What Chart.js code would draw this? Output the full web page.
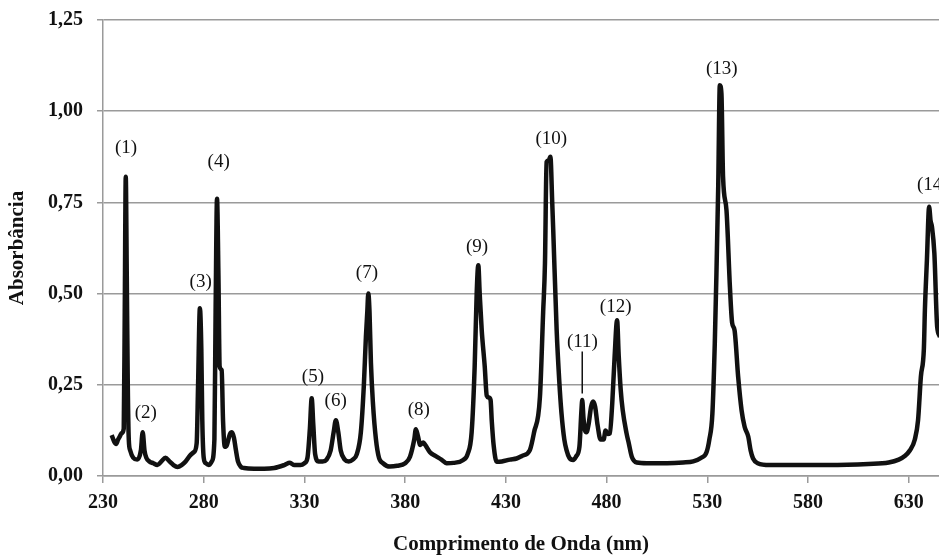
<!DOCTYPE html>
<html>
<head>
<meta charset="utf-8">
<script src="https://cdn.jsdelivr.net/npm/chart.js@4"></script>
<style>
  html, body { margin: 0; padding: 0; background: #ffffff; }
  #wrap { width: 939px; height: 557px; position: relative; }
</style>
</head>
<body>
<div id="wrap"><canvas id="c"></canvas></div>
<script>
// Wavelength (nm) and absorbance
const wavelengths = [
  234.3, 235.5, 236.5, 237.5, 238.5, 239.3, 240.3, 240.8, 241.3, 241.8, 242.3, 242.8, 243.5, 245, 247,
  248.8, 249.7, 250.6, 251.5, 253, 255, 257, 259, 261, 263, 265, 267, 269, 271, 273, 275,
  276.5, 277.2, 278.1, 278.8, 279.3, 280, 281, 282.5, 284, 285.3, 285.9, 286.6, 287.3, 287.9,
  288.9, 289.6, 290.5, 291.5, 293, 294, 295, 296, 297, 298.5, 300, 305, 310, 315, 320, 322.8,
  325, 328, 330, 331.5, 332.7, 333.6, 334.4, 335.3, 337, 339, 341, 343, 344.5, 345.6, 346.8,
  348, 350, 352, 354, 356, 358, 359.5, 360.5, 361.2, 361.7, 362.3, 363, 364, 365.5, 367, 369,
  372.4, 376, 380, 382.4, 384.5, 385.3, 386.3, 387.5, 389, 390, 392.3, 395, 398, 400.6, 404,
  408.8, 411, 413, 414.5, 415.5, 416.3, 417, 418, 419.5, 420.5, 421.5, 422.4, 423, 424, 425.4,
  428, 432, 435.3, 438, 441.9, 444, 446.9, 448.5, 449.4, 450.2, 451.2, 452.1, 453, 453.5, 455.2,
  456.5, 457.6, 459, 460.1, 461.5, 463.4, 465, 466.5, 467.5, 467.9, 468.5, 469.2, 470, 471,
  472.3, 473.3, 474.3, 475.5, 477, 478.5, 479.5, 480.5, 481.6, 482.8, 484, 485.2, 486, 487, 488,
  489.9, 491, 492.5, 495, 500, 510, 518, 523, 527, 529.6, 531, 532.5, 533.7, 534.5, 535.4, 536.2,
  537, 537.8, 539.5, 541.2, 542.3, 543.5, 545.3, 547, 548.5, 550.3, 551.5, 552.7, 555, 561, 570,
  590, 610, 620, 625, 628, 630.5, 633, 634.6, 636, 637.5, 638, 639, 640.1, 640.8, 641.5, 642.7,
  644.1, 645.5, 647, 650
];
const absorbance = [
  0.112, 0.095, 0.088, 0.100, 0.110, 0.118, 0.130, 0.450, 0.820, 0.550, 0.250, 0.100, 0.070, 0.050, 0.045,
  0.070, 0.120, 0.070, 0.050, 0.040, 0.035, 0.030, 0.040, 0.050, 0.040, 0.030, 0.025, 0.030, 0.040, 0.055, 0.065,
  0.090, 0.250, 0.460, 0.350, 0.150, 0.050, 0.035, 0.030, 0.040, 0.100, 0.450, 0.760, 0.550, 0.300,
  0.290, 0.150, 0.080, 0.085, 0.115, 0.120, 0.105, 0.070, 0.040, 0.025, 0.022, 0.020, 0.020, 0.022, 0.030, 0.036,
  0.030, 0.030, 0.035, 0.050, 0.130, 0.213, 0.140, 0.060, 0.040, 0.040, 0.045, 0.070, 0.120, 0.153, 0.120,
  0.070, 0.045, 0.040, 0.045, 0.060, 0.120, 0.250, 0.380, 0.450, 0.500, 0.450, 0.310, 0.200, 0.100, 0.050, 0.035,
  0.026, 0.028, 0.035, 0.053, 0.100, 0.128, 0.110, 0.085, 0.092, 0.085, 0.065, 0.055, 0.045, 0.035, 0.036,
  0.044, 0.060, 0.120, 0.300, 0.500, 0.578, 0.500, 0.400, 0.300, 0.220, 0.215, 0.208, 0.150, 0.080, 0.039,
  0.040, 0.045, 0.048, 0.055, 0.071, 0.120, 0.217, 0.450, 0.583, 0.861, 0.865, 0.875, 0.750, 0.674, 0.400,
  0.260, 0.172, 0.100, 0.071, 0.050, 0.044, 0.055, 0.080, 0.180, 0.208, 0.160, 0.126, 0.120, 0.140,
  0.190, 0.204, 0.190, 0.140, 0.100, 0.100, 0.125, 0.115, 0.117, 0.200, 0.330, 0.427, 0.330, 0.236, 0.180,
  0.117, 0.090, 0.053, 0.037, 0.035, 0.035, 0.037, 0.040, 0.050, 0.065, 0.100, 0.170, 0.364, 0.550, 0.793, 1.071,
  1.048, 0.820, 0.729, 0.519, 0.420, 0.400, 0.272, 0.180, 0.135, 0.108, 0.070, 0.048, 0.035, 0.030, 0.030,
  0.030, 0.033, 0.037, 0.045, 0.055, 0.070, 0.100, 0.153, 0.272, 0.350, 0.455, 0.592, 0.738, 0.700, 0.683, 0.610,
  0.409, 0.380, 0.300, 0.200
];

// Peak annotations: text and anchor (data coordinates)
const peakLabels = ['(1)', '(2)', '(3)', '(4)', '(5)', '(6)', '(7)', '(8)', '(9)', '(10)', '(11)', '(12)', '(13)', '(14)'];
const peakLabelX = [241.4, 251.2, 278.5, 287.4, 334.2, 345.5, 361.0, 386.8, 415.7, 452.5, 468.0, 484.5, 537.2, 641.9];
const peakLabelY = [0.899, 0.172, 0.532, 0.861, 0.270, 0.206, 0.557, 0.181, 0.628, 0.925, 0.368, 0.464, 1.117, 0.797];
// Leader line for label (11)
const leaderX = 467.9;
const leaderY = [0.341, 0.226];

// Tick values
const xTicks = [230, 280, 330, 380, 430, 480, 530, 580, 630];
const yTicks = [0, 0.25, 0.5, 0.75, 1.0, 1.25];

const xTitle = 'Comprimento de Onda (nm)';
const yTitle = 'Absorbância';

const points = wavelengths.map((w, i) => ({ x: w, y: absorbance[i] }));

const peakLabelPlugin = {
  id: 'peakLabels',
  afterDatasetsDraw(chart) {
    const { ctx, scales: { x, y } } = chart;
    ctx.save();
    ctx.fillStyle = '#111111';
    ctx.font = '19px "Liberation Serif", "Times New Roman", serif';
    ctx.textAlign = 'center';
    ctx.textBaseline = 'middle';
    peakLabels.forEach((t, i) => {
      ctx.fillText(t, x.getPixelForValue(peakLabelX[i]), y.getPixelForValue(peakLabelY[i]));
    });
    ctx.strokeStyle = '#111111';
    ctx.lineWidth = 1.5;
    ctx.beginPath();
    ctx.moveTo(x.getPixelForValue(leaderX), y.getPixelForValue(leaderY[0]));
    ctx.lineTo(x.getPixelForValue(leaderX), y.getPixelForValue(leaderY[1]));
    ctx.stroke();
    ctx.restore();
  }
};

const tickFont = { family: '"Liberation Serif", "Times New Roman", serif', size: 20, weight: 'bold' };
const titleFont = { family: '"Liberation Serif", "Times New Roman", serif', size: 21, weight: 'bold' };
const gridColor = '#9a9a9a';

new Chart(document.getElementById('c'), {
  type: 'line',
  data: {
    datasets: [{
      data: points,
      borderColor: '#111111',
      borderWidth: 4.5,
      pointRadius: 0,
      cubicInterpolationMode: 'monotone',
      fill: false
    }]
  },
  options: {
    responsive: true,
    maintainAspectRatio: false,
    animation: false,
    layout: { padding: { top: 20, right: 0, bottom: 0, left: 0 } },
    plugins: { legend: { display: false }, tooltip: { enabled: false } },
    scales: {
      x: {
        type: 'linear',
        min: 230,
        max: 645,
        afterBuildTicks: (scale) => { scale.ticks = xTicks.map(v => ({ value: v })); },
        afterFit: (scale) => { scale.height = 81; scale.paddingLeft = 0; scale.paddingRight = 0; },
        ticks: {
          autoSkip: false,
          maxRotation: 0,
          padding: 8,
          color: '#111111',
          font: tickFont,
          callback: (v) => String(v)
        },
        grid: { drawOnChartArea: false, drawTicks: true, tickLength: 7, color: gridColor, lineWidth: 1.5 },
        border: { display: true, color: gridColor, width: 1.5 },
        title: { display: true, text: xTitle, color: '#111111', font: titleFont, padding: { top: 0, bottom: 0 } }
      },
      y: {
        min: 0,
        max: 1.25,
        afterBuildTicks: (scale) => { scale.ticks = yTicks.map(v => ({ value: v })); },
        afterFit: (scale) => { scale.width = 103; scale.paddingTop = 0; scale.paddingBottom = 0; },
        ticks: {
          padding: 14,
          color: '#111111',
          font: tickFont,
          callback: (v) => Number(v).toFixed(2).replace('.', ',')
        },
        grid: { drawOnChartArea: true, drawTicks: true, tickLength: 6, color: gridColor, lineWidth: 1.5 },
        border: { display: true, color: gridColor, width: 1.5 },
        title: { display: true, text: yTitle, color: '#111111', font: titleFont, padding: { top: 5, bottom: 0 } }
      }
    }
  },
  plugins: [peakLabelPlugin]
});
</script>
</body>
</html>
